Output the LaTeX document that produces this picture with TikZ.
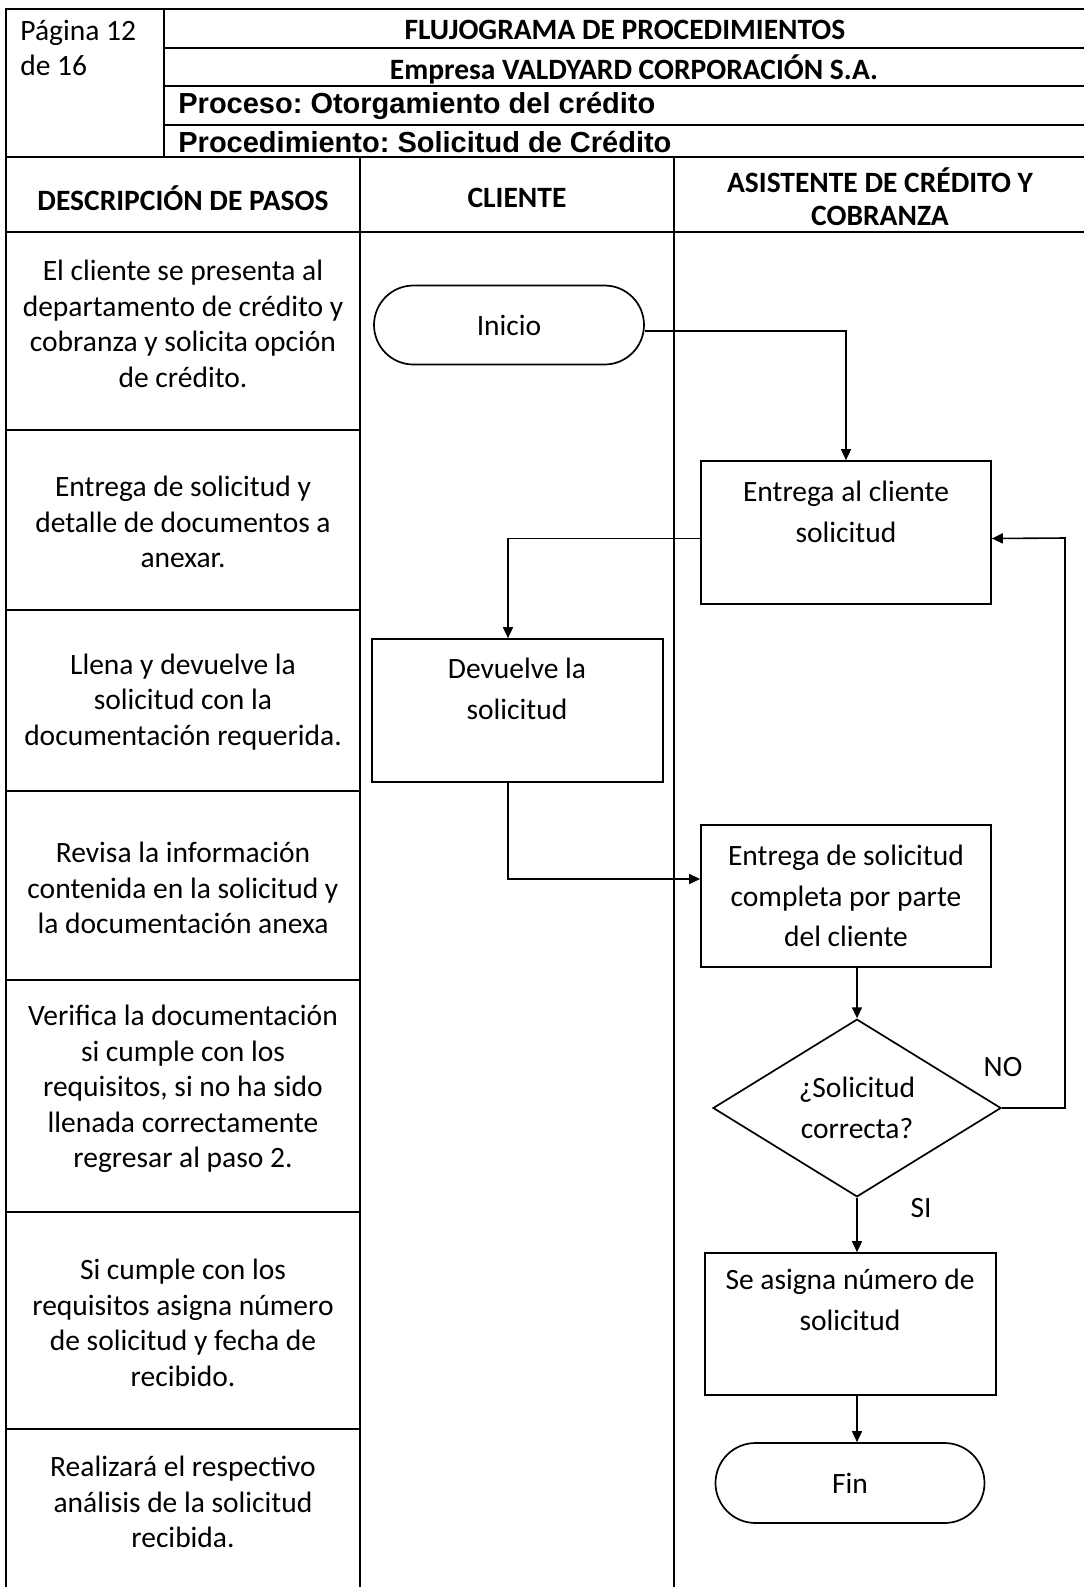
\documentclass[tikz,border=0pt]{standalone}
\usepackage{fontspec}
\setmainfont{Carlito}
\newfontfamily\arialfont{Liberation Sans}
\usetikzlibrary{arrows.meta,shapes.geometric,shapes.misc}
\frenchspacing
\begin{document}
\begin{tikzpicture}[x=0.5pt,y=-0.5pt,
  grid/.style={line width=1pt},
  body/.style={font=\fontsize{14.75}{17.75}\selectfont, align=center, inner sep=0pt},
  flowtxt/.style={font=\fontsize{14.75}{20.25}\selectfont, align=center, inner sep=0pt},
  hdr/.style={font=\bfseries\fontsize{14.75}{16.7}\selectfont, align=center, inner sep=0pt},
  proc/.style={draw, line width=0.85pt, rectangle, minimum width=145pt, minimum height=71.5pt, inner sep=0pt, flowtxt},
  term/.style={draw, line width=0.85pt, rounded rectangle, minimum width=135pt, minimum height=39.5pt, inner sep=0pt, flowtxt},
  dec/.style={draw, line width=0.85pt, diamond, minimum width=144pt, minimum height=88.5pt, inner sep=0pt, flowtxt},
  conn/.style={line width=0.8pt, -{Triangle[length=5.5pt,width=5pt]}}
]
\useasboundingbox (0,0) rectangle (1084,1587);

% table grid
\draw[grid] (6,1587) -- (6,9) -- (1084,9);
\draw[grid] (164,9) -- (164,157);
\draw[grid] (164,48) -- (1084,48);
\draw[grid] (164,86) -- (1084,86);
\draw[grid] (164,125) -- (1084,125);
\draw[grid] (6,157) -- (1084,157);
\draw[grid] (6,232) -- (1084,232);
\draw[grid] (360,157) -- (360,1587);
\draw[grid] (674,157) -- (674,1587);
\foreach \yy in {430,610,791,980,1212,1429} \draw[grid] (6,\yy) -- (360,\yy);

% header texts
\node[body, anchor=west, align=left] (pag) at (20,48) {Página 12\\de 16};
\node[hdr] (t1) at (625,30) {FLUJOGRAMA DE PROCEDIMIENTOS};
\node[hdr] (t2) at (634,69) {Empresa VALDYARD CORPORACIÓN S.A.};
\node[anchor=west, inner sep=0pt, font=\arialfont\bfseries\fontsize{14.5}{16}\selectfont] (t3) at (178,106) {Proceso: Otorgamiento del crédito};
\node[anchor=west, inner sep=0pt, font=\arialfont\bfseries\fontsize{14.5}{16}\selectfont] (t4) at (178,142) {Procedimiento: Solicitud de Crédito};

\node[hdr] (h1) at (183,198) {DESCRIPCIÓN DE PASOS};
\node[hdr] (h2) at (517,198) {CLIENTE};
\node[hdr] (h3) at (880,197) {ASISTENTE DE CRÉDITO Y\\COBRANZA};

% description column
\node[body] (d1) at (183,324) {El cliente se presenta al\\departamento de crédito y\\cobranza y solicita opción\\de crédito.};
\node[body] (d2) at (183,522) {Entrega de solicitud y\\detalle de documentos a\\anexar.};
\node[body] (d3) at (183,702) {Llena y devuelve la\\solicitud con la\\documentación requerida.};
\node[body] (d4) at (183,888) {Revisa la información\\contenida en la solicitud y\\la documentación anexa};
\node[body] (d5) at (183,1089) {Verifica la documentación\\si cumple con los\\requisitos, si no ha sido\\llenada correctamente\\regresar al paso 2.};
\node[body] (d6) at (183,1323) {Si cumple con los\\requisitos asigna número\\de solicitud y fecha de\\recibido.};
\node[body] (d7) at (183,1502) {Realizará el respectivo\\análisis de la solicitud\\recibida.};

% flow shapes
\node[term] (ini) at (509,325) {Inicio};
\node[proc] (b1) at (846,532.5) {};
\node[flowtxt] (b1t) at (846,512) {Entrega al cliente\\solicitud};
\node[proc, minimum width=145.5pt] (b2) at (517.5,710.5) {};
\node[flowtxt] (b2t) at (517,689) {Devuelve la\\solicitud};
\node[proc, minimum height=71pt] (b3) at (846,896) {Entrega de solicitud\\completa por parte\\del cliente};
\node[dec] (dc) at (857,1108) {¿Solicitud\\correcta?};
\node[proc, minimum width=145.5pt, minimum height=71pt] (b4) at (850.5,1324) {};
\node[flowtxt] (b4t) at (850,1300) {Se asigna número de\\solicitud};
\node[term, minimum width=134.5pt, minimum height=40pt] (fin) at (850,1483) {Fin};

\node[flowtxt] (no) at (1003,1067) {NO};
\node[flowtxt] (si) at (921,1208) {SI};

\coordinate (nor) at (1065,538);

% connectors
\draw[conn] ([yshift=-3pt]ini.east) -| (b1.north);
\draw[conn] ([yshift=-3pt]b1.west) -| ([xshift=-4.75pt]b2.north);
\draw[conn] ([xshift=-4.75pt]b2.south) |- ([yshift=8.5pt]b3.west);
\draw[conn] ([xshift=5.5pt]b3.south) -- (dc.north);
\draw[conn] (dc.east) -| (nor) -- ([yshift=-3pt]b1.east);
\draw[conn] (dc.south) -- (dc.south |- b4.north);
\draw[conn] ([xshift=3.25pt]b4.south) -- ([xshift=3.25pt]b4.south |- fin.north);
\end{tikzpicture}
\end{document}
